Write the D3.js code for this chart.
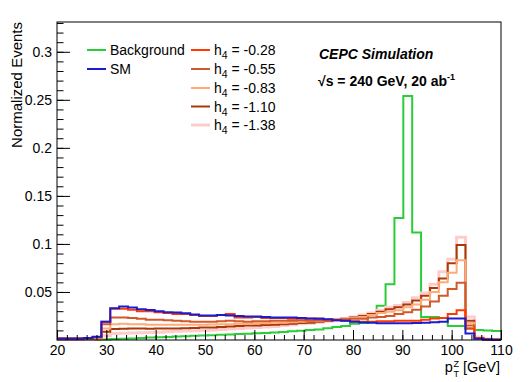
<!DOCTYPE html>
<html>
<head>
<meta charset="utf-8">
<script src="https://cdnjs.cloudflare.com/ajax/libs/d3/7.8.5/d3.min.js"></script>
<style>
    body { margin: 0; background: #fff; }
    text { font-family: "Liberation Sans", Arial, sans-serif; }
</style>
</head>
<body>
<div id="chart"></div>
<script>
// 50 bins of 1.8 GeV between 20 and 110
var binLow = 20, binWidth = 1.8, nBins = 50;

var background = [0, 0, 0, 0, 0, 0.0005, 0.001, 0.0012, 0.0015, 0.002,
    0.0025, 0.0028, 0.0032, 0.0036, 0.004, 0.0043, 0.0047, 0.005, 0.0055, 0.0058,
    0.0062, 0.0066, 0.007, 0.0074, 0.0079, 0.0084, 0.009, 0.0096, 0.0103, 0.011,
    0.0122, 0.0135, 0.0145, 0.017, 0.0178, 0.026, 0.0357, 0.058, 0.127, 0.254,
    0.112, 0.024, 0.024, 0.023, 0.0146, 0.0146, 0.012, 0.0105, 0.0098, 0.0094];

var sm = [0.0015, 0.0015, 0.0015, 0.002, 0.0035, 0.019, 0.033, 0.0348, 0.0337, 0.032,
    0.0313, 0.030, 0.029, 0.0285, 0.0278, 0.0265, 0.0255, 0.0255, 0.026, 0.0255,
    0.025, 0.0245, 0.0245, 0.024, 0.0235, 0.0235, 0.0235, 0.023, 0.0225, 0.022,
    0.0215, 0.0205, 0.020, 0.019, 0.0182, 0.018, 0.0175, 0.0175, 0.0174, 0.0175,
    0.0178, 0.018, 0.0185, 0.019, 0.0225, 0.0225, 0.0067, 0.0012, 0.0005, 0.0003];

var h4m028 = [0.0015, 0.0015, 0.0015, 0.0018, 0.003, 0.019, 0.0325, 0.0325, 0.0315, 0.030,
    0.030, 0.029, 0.028, 0.027, 0.027, 0.026, 0.025, 0.025, 0.026, 0.027,
    0.0235, 0.0235, 0.024, 0.023, 0.023, 0.023, 0.022, 0.0225, 0.022, 0.0225,
    0.021, 0.0205, 0.020, 0.0195, 0.019, 0.019, 0.0195, 0.0195, 0.020, 0.020,
    0.020, 0.021, 0.0225, 0.023, 0.027, 0.031, 0.012, 0.002, 0.0006, 0.0003];

var h4m055 = [0.0012, 0.0012, 0.0012, 0.0014, 0.0025, 0.0165, 0.0235, 0.0235, 0.023, 0.022,
    0.021, 0.021, 0.0205, 0.020, 0.0195, 0.019, 0.019, 0.019, 0.0195, 0.020,
    0.0195, 0.019, 0.0195, 0.0195, 0.020, 0.020, 0.020, 0.0205, 0.020, 0.0205,
    0.021, 0.021, 0.0215, 0.022, 0.022, 0.0235, 0.024, 0.025, 0.027, 0.029,
    0.0315, 0.035, 0.040, 0.046, 0.053, 0.0595, 0.015, 0.002, 0.0005, 0.0003];

var h4m083 = [0.001, 0.001, 0.001, 0.0012, 0.002, 0.012, 0.0165, 0.0168, 0.0165, 0.0165,
    0.016, 0.016, 0.016, 0.016, 0.0158, 0.016, 0.016, 0.0162, 0.0165, 0.0165,
    0.017, 0.017, 0.0175, 0.0175, 0.018, 0.018, 0.0185, 0.019, 0.0195, 0.020,
    0.021, 0.0215, 0.022, 0.023, 0.024, 0.026, 0.028, 0.0295, 0.031, 0.034,
    0.037, 0.042, 0.050, 0.060, 0.070, 0.083, 0.018, 0.002, 0.0005, 0.0003];

var h4m110 = [0.0008, 0.0008, 0.0008, 0.001, 0.0015, 0.0085, 0.0115, 0.0118, 0.012, 0.012,
    0.0118, 0.012, 0.012, 0.012, 0.0122, 0.0125, 0.013, 0.013, 0.0135, 0.014,
    0.0145, 0.015, 0.015, 0.0155, 0.016, 0.0165, 0.017, 0.0178, 0.018, 0.019,
    0.020, 0.021, 0.022, 0.0235, 0.025, 0.027, 0.0295, 0.032, 0.034, 0.037,
    0.041, 0.046, 0.054, 0.064, 0.080, 0.099, 0.020, 0.002, 0.0005, 0.0003];

var h4m138 = [0.0005, 0.0005, 0.0005, 0.0006, 0.001, 0.0045, 0.0068, 0.007, 0.0072, 0.0075,
    0.0078, 0.008, 0.0085, 0.009, 0.0093, 0.0097, 0.010, 0.0105, 0.011, 0.0115,
    0.012, 0.0125, 0.013, 0.0135, 0.014, 0.015, 0.016, 0.017, 0.0175, 0.0185,
    0.0195, 0.021, 0.022, 0.024, 0.026, 0.028, 0.031, 0.034, 0.036, 0.039,
    0.044, 0.049, 0.058, 0.071, 0.084, 0.107, 0.024, 0.003, 0.001, 0.0005];

var seriesNames = ["Background", "SM", "h4 = -0.28", "h4 = -0.55", "h4 = -0.83", "h4 = -1.10", "h4 = -1.38"];
var seriesData = [background, sm, h4m028, h4m055, h4m083, h4m110, h4m138];
var seriesColors = ["#2bcc3a", "#1c1ccf", "#ff3a00", "#d2592a", "#ffaa78", "#a83a0a", "#ffcccc"];
var seriesWidths = [2, 2, 2, 2, 2, 2, 3];

var xTicks = [20, 30, 40, 50, 60, 70, 80, 90, 100, 110];
var yTicks = [0.05, 0.1, 0.15, 0.2, 0.25, 0.3];

var margin = {top: 22, right: 31, bottom: 42, left: 57},
    width = 532 - margin.left - margin.right,
    height = 382 - margin.top - margin.bottom;

var xScale = d3.scaleLinear().domain([20, 110]).range([0, width]),
    yScale = d3.scaleLinear().domain([0, 0.331]).range([height, 0]);

var svg = d3.select("#chart").append("svg")
    .attr("width", 532)
    .attr("height", 382);

var g = svg.append("g")
    .attr("transform", "translate(" + margin.left + "," + margin.top + ")");

// Histograms, drawn as steps
var line = d3.line()
    .x(function(d) { return xScale(d[0]); })
    .y(function(d) { return yScale(d[1]); })
    .curve(d3.curveStepAfter);

function toSteps(values) {
    var pts = values.map(function(v, i) { return [binLow + i * binWidth, v]; });
    pts.push([binLow + nBins * binWidth, values[values.length - 1]]);
    return pts;
}

var order = [0, 6, 5, 4, 3, 2, 1];
order.forEach(function(i) {
    g.append("path")
        .datum(toSteps(seriesData[i]))
        .attr("d", line)
        .attr("fill", "none")
        .attr("stroke", seriesColors[i])
        .attr("stroke-width", seriesWidths[i])
        .attr("stroke-linejoin", "miter");
});

// Frame
g.append("rect")
    .attr("width", width)
    .attr("height", height)
    .attr("fill", "none")
    .attr("stroke", "#000")
    .attr("stroke-width", 1);

// x axis: major and minor ticks pointing inward
var xMinor = d3.range(20, 110.1, 2);
g.append("g")
    .attr("transform", "translate(0," + height + ")")
    .call(d3.axisBottom(xScale).tickValues(xMinor).tickSize(-5).tickFormat(""))
    .call(function(a) { a.select(".domain").remove(); });
g.append("g")
    .attr("class", "x axis")
    .attr("transform", "translate(0," + height + ")")
    .call(d3.axisBottom(xScale).tickValues(xTicks).tickSize(-10).tickPadding(5.5).tickFormat(d3.format("d")))
    .call(function(a) { a.select(".domain").remove(); });

// y axis
var yMinor = d3.range(0.01, 0.331, 0.01);
g.append("g")
    .call(d3.axisLeft(yScale).tickValues(yMinor).tickSize(-6.5).tickFormat(""))
    .call(function(a) { a.select(".domain").remove(); });
g.append("g")
    .attr("class", "y axis")
    .call(d3.axisLeft(yScale).tickValues(yTicks).tickSize(-13).tickPadding(5).tickFormat(function(d) { return d3.format("")(+d.toFixed(2)); }))
    .call(function(a) { a.select(".domain").remove(); });

g.selectAll(".axis text")
    .attr("font-family", "Liberation Sans, Arial, sans-serif")
    .attr("font-size", 14)
    .attr("fill", "#000");
g.selectAll(".tick line").attr("stroke", "#000");

// Axis titles
svg.append("text")
    .attr("transform", "translate(22," + margin.top + ") rotate(-90)")
    .attr("text-anchor", "end")
    .attr("font-size", 15)
    .text("Normalized Events");

var xt = svg.append("text")
    .attr("x", 500)
    .attr("y", 372)
    .attr("text-anchor", "end")
    .attr("font-size", 14.5);
xt.append("tspan").text("p");
xt.append("tspan").attr("font-size", 9).attr("dy", 5).attr("dx", 0.5).text("T");
xt.append("tspan").attr("font-size", 9).attr("dy", -10.5).attr("dx", -5.5).text("Z");
xt.append("tspan").attr("dy", 5.5).text(" [GeV]");

// Annotations
svg.append("text")
    .attr("x", 319)
    .attr("y", 59)
    .attr("font-size", 14)
    .attr("font-weight", "bold")
    .attr("font-style", "italic")
    .text("CEPC Simulation");

var ann = svg.append("text")
    .attr("x", 318)
    .attr("y", 86)
    .attr("font-size", 14)
    .attr("font-weight", "bold");
ann.append("tspan").text("\u221As = 240 GeV, 20 ab");
ann.append("tspan").attr("font-size", 9).attr("dy", -6).text("-1");

// Legend
var legendPos = [[87, 50], [87, 69], [191, 50], [191, 69], [191, 88], [191, 106.5], [191, 125]];
seriesNames.forEach(function(name, i) {
    var p = legendPos[i];
    svg.append("line")
        .attr("x1", p[0]).attr("x2", p[0] + 19)
        .attr("y1", p[1]).attr("y2", p[1])
        .attr("stroke", seriesColors[i])
        .attr("stroke-width", seriesWidths[i]);
    var t = svg.append("text")
        .attr("x", p[0] + 23)
        .attr("y", p[1] + 5)
        .attr("font-size", 14);
    if (name.indexOf("h4") === 0) {
        t.append("tspan").text("h");
        t.append("tspan").attr("font-size", 10.5).attr("dy", 4).text("4");
        t.append("tspan").attr("dy", -4).text(name.slice(2));
    } else {
        t.text(name);
    }
});
</script>
</body>
</html>
